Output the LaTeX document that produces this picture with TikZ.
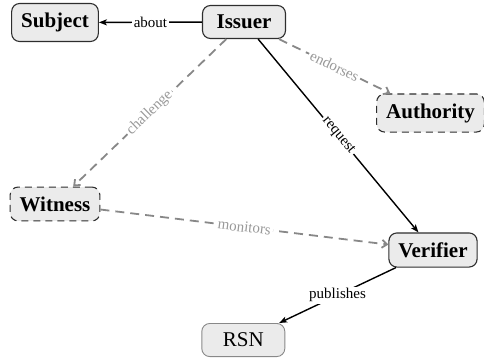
\documentclass[tikz,border=0pt]{standalone}
\usepackage{fontspec}
\setmainfont{Liberation Serif}
\usetikzlibrary{arrows.meta}
\definecolor{nodefill}{HTML}{EBEBEB}
\definecolor{nodeline}{HTML}{2E2E2E}
\definecolor{dashgray}{HTML}{888888}
\definecolor{labgray}{HTML}{999999}
\begin{document}
\begin{tikzpicture}[x=1pt,y=-1pt,
  box/.style={draw=nodeline, fill=nodefill, line width=1.1pt, rounded corners=8pt,
    inner xsep=9.5pt, inner ysep=9.5pt, minimum width=83pt,
    font=\rmfamily\fontsize{21}{25}\selectfont\bfseries},
  dbox/.style={box, dash pattern=on 7pt off 5pt},
  plainbox/.style={draw=dashgray, fill=nodefill, line width=0.9pt, rounded corners=8pt,
    inner xsep=9.5pt, inner ysep=9.5pt, minimum width=83pt,
    font=\rmfamily\fontsize{21}{25}\selectfont},
  solidedge/.style={draw=black, line width=1.4pt, -{Stealth[length=8pt,width=6pt,inset=2pt]}},
  dashedge/.style={draw=dashgray, line width=1.8pt, dash pattern=on 9pt off 6pt,
    -{Straight Barb[length=5pt,width=8pt]}},
  lab/.style={fill=white, inner sep=2pt, font=\rmfamily\fontsize{15}{18}\selectfont, text=black},
  glab/.style={lab, text=labgray}
]
\useasboundingbox (0,0) rectangle (484,359);
\node[box]  (subject)   at (55,22.5) {Subject};
\node[box]  (issuer)    at (244,22)  {Issuer};
\node[dbox] (authority) at (430.5,113) {Authority};
\node[dbox] (witness)   at (55,204)  {Witness};
\node[box]  (verifier)  at (433,250) {Verifier};
\node[plainbox] (rsn)   at (243.3,340) {RSN};

\draw[solidedge] (issuer) -- node[lab] {about} (subject);
\draw[dashedge] (issuer) -- node[glab, sloped] {endorses} (authority);
\draw[dashedge] (issuer) -- node[glab, sloped] {challenge} (witness);
\draw[solidedge] (issuer) -- node[lab, sloped] {request} (verifier);
\draw[dashedge] (witness) -- node[glab, sloped] {monitors} (verifier);
\draw[solidedge] (verifier) -- node[lab] {publishes} (rsn);
\end{tikzpicture}
\end{document}
